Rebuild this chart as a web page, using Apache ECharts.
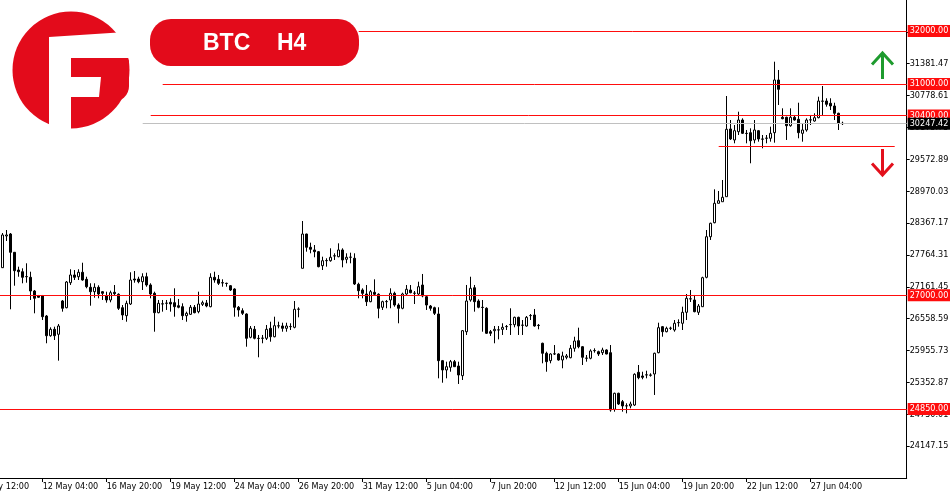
<!DOCTYPE html>
<html><head><meta charset="utf-8">
<script src="https://cdn.jsdelivr.net/npm/echarts@6/dist/echarts.min.js"></script>
<style>html,body{margin:0;padding:0;background:#fff}#c{width:950px;height:500px}</style>
</head><body><div id="c"></div><script>
// ---- data (BTC H4) ----
const firstBarTime = '2023-05-10T12:00:00Z';   // first visible bar
const hiddenBarsBefore = 6;                      // bars left of the frame (9 May 12:00 label)
const emptyBarsAfter = 16;                       // chart shift area
const open = [27523,28123,28160,27814,27479,27447,27352,27341,27082,26988,
26988,26609,26236,26357,26263,26893,26766,27239,27385,27352,
27436,27303,27152,27069,27152,27069,26988,26912,27057,27020,
26766,26615,26836,27309,27309,27258,27352,27196,27038,26672,
26836,26849,26868,26861,26804,26785,26615,26641,26774,26691,
26830,26855,26785,27341,27303,27239,27228,27182,27120,26774,
26709,26647,26206,26357,26187,26187,26187,26376,26217,26420,
26420,26376,26407,26395,26736,27511,28160,27909,27858,27826,
27561,27655,27655,27744,27731,27858,27682,27720,27701,27209,
27101,27025,26880,27057,27020,26774,26880,26912,27038,26817,
26755,27025,27101,27038,27025,27195,26974,26798,26766,26647,
25764,25588,25639,25745,25663,25480,26312,26912,27144,26893,
26774,26755,26312,26331,26344,26357,26407,26445,26445,26584,
26433,26420,26615,26628,26433,26093,25904,25764,25890,25890,
25777,25828,25820,25998,26142,26028,25809,25809,25953,25934,
25915,25966,25915,24844,25147,24988,24907,24907,24925,25544,
25474,25493,25493,25512,25915,26407,26312,26376,26344,26482,
26471,26679,26931,26912,26679,26785,27341,28109,28374,28741,
28771,28866,30147,29939,30096,30317,30065,30077,29939,30115,
29958,29971,29971,30077,31074,30368,30368,30209,30368,30330,
30065,30128,30317,30298,30361,30676,30676,30633,30582,30444,
30255];
const close = [28142,28142,27814,27466,27447,27341,27356,27082,26944,26963,
26596,26236,26357,26236,26420,26755,27252,27385,27341,27436,
27290,27163,27069,27152,27025,27038,26912,27050,27031,26755,
26628,26849,27290,27290,27258,27352,27196,27025,26672,26849,
26840,26853,26836,26785,26774,26615,26660,26774,26672,26836,
26861,26798,27341,27290,27228,27235,27224,27101,26774,26723,
26660,26187,26376,26187,26183,26191,26357,26217,26426,26424,
26376,26420,26411,26736,26740,28160,27909,27871,27826,27542,
27655,27659,27720,27748,27858,27669,27720,27724,27215,27088,
27038,26880,27069,27020,26755,26880,26884,27038,26817,26755,
27025,27114,27050,27042,27163,26988,26817,26755,26660,25764,
25588,25650,25745,25650,25493,26331,26893,27133,26880,26774,
26770,26282,26282,26357,26348,26395,26411,26449,26584,26420,
26437,26584,26619,26420,26429,25904,25745,25890,25894,25777,
25853,25853,25998,26136,26028,25828,25813,25947,25957,25890,
25966,25890,24831,25147,24944,24907,24911,24944,25506,25442,
25449,25497,25489,25904,26388,26312,26376,26380,26471,26486,
26679,26944,26935,26691,26798,27334,28109,28363,28741,28790,
28855,30141,29958,30115,30317,30065,30061,29925,30128,29958,
29954,29975,30065,31074,30898,30342,30209,30368,30317,30077,
30128,30317,30321,30361,30676,30672,30614,30582,30444,30255,
30247.42];
const low = [27517,28028,26736,27182,27352,27228,27239,26912,26660,26955,
26533,26093,26217,26155,25764,26691,26755,27196,27290,27290,
27277,27133,26804,26955,26944,26912,26861,26868,27007,26723,
26533,26501,26817,27239,27228,27101,27163,26944,26312,26660,
26691,26723,26691,26596,26755,26533,26501,26628,26660,26660,
26798,26774,26774,27239,27196,27163,27163,27082,26596,26596,
26628,26028,26187,26168,25828,26093,26155,26123,26206,26376,
26312,26312,26344,26376,26584,27511,27826,27795,27720,27530,
27479,27542,27636,27669,27720,27530,27606,27606,27196,26944,
26944,26798,26870,27007,26566,26723,26755,26755,26785,26471,
26736,27007,27038,26836,27007,26963,26723,26709,26628,25430,
25347,25430,25555,25644,25323,25398,26250,26880,26691,26755,
26312,26270,26231,26093,26168,26250,26344,26250,26395,26250,
26250,26407,26533,26407,26357,25714,25555,25714,25871,25764,
25620,25790,25809,25934,25998,25682,25745,25790,25915,25853,
25871,25885,24799,24799,24925,24799,24768,24863,24907,25412,
25412,25430,25461,25115,25904,26217,26300,26344,26312,26407,
26344,26533,26874,26679,26628,26779,27322,28047,28363,28741,
28771,28866,29939,29876,30033,30052,29876,29498,29876,29907,
29782,29876,29907,29888,30601,30330,29939,30190,30304,29971,
29907,30096,30222,30285,30349,30412,30569,30506,30317,30128,
30222];
const high = [28179,28236,28179,27820,27542,27511,27606,27447,27101,27007,
27007,26628,26395,26407,26458,26912,27271,27493,27479,27493,
27617,27352,27228,27228,27190,27082,27069,27088,27195,27038,
26817,26899,27436,27460,27352,27417,27428,27228,27069,26912,
26912,26912,26944,27133,26931,26849,26691,26817,26817,27069,
26899,26912,27417,27447,27385,27303,27239,27195,27133,26798,
26755,26660,26420,26420,26250,26250,26439,26501,26596,26501,
26482,26482,26471,26893,26774,28406,28166,27996,27952,27839,
27731,27701,27890,27795,27984,27890,27795,27807,27795,27239,
27133,27195,27101,27303,27038,26899,26912,27133,27069,26849,
27050,27195,27195,27082,27258,27404,26988,26817,26785,26774,
25777,25745,25777,25777,25745,26344,27196,27352,27196,26925,
26912,26774,26344,26420,26420,26471,26439,26755,26596,26596,
26533,26609,26647,26742,26458,26104,25934,25904,26060,25904,
25934,25890,26060,26217,26388,26041,25871,25979,25998,25953,
26009,25979,26060,25158,25158,25020,24958,24988,25525,25682,
25555,25574,25525,25915,26482,26420,26407,26407,26533,26546,
26785,27025,27101,27007,26836,27352,28236,28374,29006,28974,
29182,30771,30317,30222,30474,30349,30128,30160,30317,30128,
30033,30033,30190,31420,31263,30538,30380,30538,30412,30644,
30255,30349,30412,30444,30758,30960,30728,30728,30644,30455,
30285];
// horizontal price levels
const levelValues = [32000, 31000, 30400, 29820, 27000, 24850];
const levelStartBar = [89, 40, 37, 179, -6, -6];   // bar index (0 = first visible bar)
const levelEndBar   = [226, 226, 226, 223, 226, 226];
const levelLabeled  = [true, true, true, false, true, true];
const currentPrice = 30247.42;
const currentStartBar = 35;
// y axis ticks (MT4 scale)
const yMin = 23544.29, yMax = 32587.19, yStep = 602.86;

// ---- categories: H4 bars, weekends skipped ----
const MONTHS = ['Jan','Feb','Mar','Apr','May','Jun','Jul','Aug','Sep','Oct','Nov','Dec'];
function stepBar(t, dir) {
  let d = new Date(t.getTime() + dir * 4 * 3600 * 1000);
  while (d.getUTCDay() === 0 || d.getUTCDay() === 6) d = new Date(d.getTime() + dir * 4 * 3600 * 1000);
  return d;
}
let t0 = new Date(firstBarTime);
for (let k = 0; k < hiddenBarsBefore; k++) t0 = stepBar(t0, -1);
const totalCats = hiddenBarsBefore + open.length + emptyBarsAfter;
const categories = [];
let tt = t0;
for (let k = 0; k < totalCats; k++) {
  const hh = String(tt.getUTCHours()).padStart(2, '0');
  categories.push(tt.getUTCDate() + ' ' + MONTHS[tt.getUTCMonth()] + ' ' + hh + ':00');
  tt = stepBar(tt, 1);
}
const lastDataCat = hiddenBarsBefore + open.length - 1;

const candleData = [];
for (let k = 0; k < hiddenBarsBefore; k++) candleData.push('-');
for (let i = 0; i < open.length; i++) candleData.push([open[i], close[i], low[i], high[i]]);

const RED = '#ff0d0d';
const FONT = '"DejaVu Sans Condensed", "Liberation Sans", sans-serif';
const lineData = levelValues.map((v, k) => [
  {
    coord: [levelStartBar[k] + hiddenBarsBefore, v],
    lineStyle: { color: RED, width: 1, type: 'solid' },
    label: {
      show: levelLabeled[k], position: 'end', distance: 1,
      formatter: v.toFixed(2), color: '#fff', backgroundColor: RED,
      padding: [2, 3, 1, 2], fontSize: 9, fontFamily: FONT
    }
  },
  { coord: [levelEndBar[k] + hiddenBarsBefore, v] }
]);
lineData.push([
  {
    coord: [currentStartBar + hiddenBarsBefore, currentPrice],
    lineStyle: { color: '#c0c0c0', width: 1, type: 'solid' },
    label: {
      show: true, position: 'end', distance: 1,
      formatter: currentPrice.toFixed(2), color: '#fff', backgroundColor: '#000',
      padding: [2, 3, 1, 2], fontSize: 9, fontFamily: FONT
    }
  },
  { coord: [totalCats - 1, currentPrice] }
]);

const labelInterval = (idx) => idx % 16 === 0 && idx <= lastDataCat;
const LOGO = '#e30b1b';

const chart = echarts.init(document.getElementById('c'), null, { renderer: 'canvas' });
chart.setOption({
  animation: false,
  backgroundColor: '#fff',
  grid: { left: -21.3, right: 43.3, top: 0, bottom: 22, containLabel: false, outerBoundsMode: 'none' },
  xAxis: {
    type: 'category', data: categories, boundaryGap: false,
    axisLine: { show: true, lineStyle: { color: '#000', width: 1 } },
    axisTick: { show: true, length: 4, interval: labelInterval, lineStyle: { color: '#000' } },
    axisLabel: { interval: labelInterval, align: 'left', margin: 4, fontSize: 9, color: '#000', fontFamily: FONT, hideOverlap: false },
    splitLine: { show: false }
  },
  yAxis: {
    type: 'value', position: 'right', min: yMin, max: yMax, interval: yStep,
    axisLine: { show: true, lineStyle: { color: '#000', width: 1 } },
    axisTick: { show: true, length: 3, lineStyle: { color: '#000' } },
    axisLabel: { showMinLabel: false, showMaxLabel: false, margin: 3, fontSize: 9, color: '#000', fontFamily: FONT,
      formatter: (v) => v.toFixed(2) },
    splitLine: { show: false }
  },
  series: [{
    type: 'candlestick', data: candleData, barWidth: 2, clip: false,
    itemStyle: { color: '#fff', color0: '#000', borderColor: '#000', borderColor0: '#000', borderWidth: 1 },
    markLine: { symbol: 'none', silent: true, animation: false, data: lineData }
  }],
  graphic: [
    { type: 'circle', shape: { cx: 71, cy: 70, r: 58.5 }, style: { fill: LOGO }, z: 100 },
    { type: 'rect', shape: { x: 71, y: 58, width: 58, height: 44, r: [0, 4, 16, 0] }, style: { fill: LOGO }, z: 100 },
    { type: 'polygon', shape: { points: [[49, 37], [118, 32.5], [140, 29], [140, 58], [71, 58], [71, 131], [49, 131]] }, style: { fill: '#fff' }, z: 101 },
    { type: 'polygon', shape: { points: [[71, 77], [101, 77], [99, 97], [71, 97]] }, style: { fill: '#fff' }, z: 101 },
    { type: 'rect', shape: { x: 150, y: 19, width: 209, height: 47, r: 21 }, style: { fill: LOGO }, z: 100 },
    { type: 'text', x: 203, y: 43.5, style: { text: 'BTC', fill: '#fff', fontSize: 23, fontWeight: 'bold', fontFamily: '"Liberation Sans", Arial, sans-serif', textAlign: 'left', textVerticalAlign: 'middle' }, z: 102 },
    { type: 'text', x: 277, y: 43.5, style: { text: 'H4', fill: '#fff', fontSize: 23, fontWeight: 'bold', fontFamily: '"Liberation Sans", Arial, sans-serif', textAlign: 'left', textVerticalAlign: 'middle' }, z: 102 },
    { type: 'polyline', shape: { points: [[882.5, 53], [882.5, 79]] }, style: { stroke: '#1e9b2e', lineWidth: 3 }, z: 100 },
    { type: 'polyline', shape: { points: [[872, 64.5], [882.5, 53], [893, 64.5]] }, style: { stroke: '#1e9b2e', lineWidth: 3, fill: null }, z: 100 },
    { type: 'polyline', shape: { points: [[882.5, 149], [882.5, 175]] }, style: { stroke: '#e3101c', lineWidth: 3 }, z: 100 },
    { type: 'polyline', shape: { points: [[872, 163.5], [882.5, 175], [893, 163.5]] }, style: { stroke: '#e3101c', lineWidth: 3, fill: null }, z: 100 }
  ]
});
</script></body></html>
